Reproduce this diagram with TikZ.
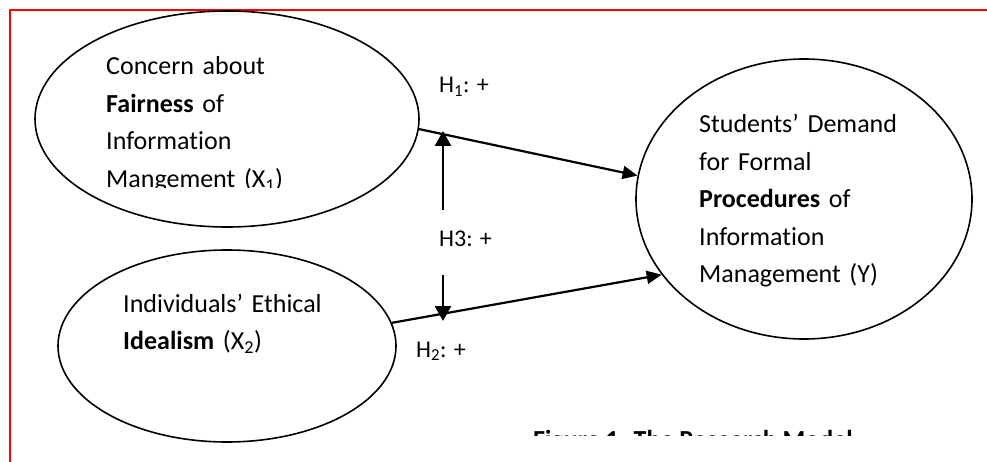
\documentclass[tikz,border=0pt]{standalone}
\usepackage{fontspec}
\setmainfont{Carlito}[Ligatures=NoCommon]
\usetikzlibrary{shapes.geometric,arrows.meta,positioning}

\begin{document}
\begin{tikzpicture}[x=1pt,y=-1pt,
  oval/.style={ellipse, draw=black, line width=1.6pt, inner sep=0pt},
  txt/.style={anchor=base west, inner sep=0pt, align=left, text width=300pt, font=\fontsize{26}{37.5}\selectfont},
  lbl/.style={anchor=base west, inner sep=0pt, font=\fontsize{24}{28}\selectfont},
  arrow/.style={-{Triangle[length=15pt,width=13pt]}, line width=2.2pt},
  modarrow/.style={-{Triangle[length=15pt,width=16pt]}, line width=2.6pt}
]
\useasboundingbox (0,0) rectangle (987,462);

% frame (top and left edge only)
\draw[red, line width=2pt] (987,10) -- (10,10) -- (10,462);

% constructs
\node[oval, minimum width=384pt, minimum height=216pt] (fair) at (227,119) {};
\node[oval, minimum width=338pt, minimum height=192pt] (ideal) at (227,346) {};
\node[oval, minimum width=336pt, minimum height=280pt] (proc) at (804,199) {};

% texts inside the ellipses
\begin{scope}
  \clip (100,40) rectangle (420,188);
  \node[txt] (fairtxt) at (106,75) {Concern about\\\textbf{Fairness} of\\Information\\Mangement (X\textsubscript{1})};
\end{scope}
\node[txt] (idealtxt) at (123,312) {Individuals’ Ethical\\\textbf{Idealism} (X\textsubscript{2})};
\node[txt] (proctxt) at (699,133) {Students’ Demand\\for Formal\\\textbf{Procedures} of\\Information\\Management (Y)};

% hypotheses
\draw[arrow] (fair.-3.3) -- (proc.172.9);
\draw[arrow] (ideal.8.1) -- (proc.208);

\node[lbl] (h1) at (439,93) {H\textsubscript{1}: +};
\node[lbl] (h3) at (439,247) {H3: +};
\node[lbl] (h2) at (416,357) {H\textsubscript{2}: +};

% moderation arrows
\coordinate (h3up) at (443,210);
\coordinate (h1hit) at (443,131);
\coordinate (h3down) at (443,275);
\coordinate (h2hit) at (443,321);
\draw[modarrow] (h3up) -- (h1hit);
\draw[modarrow] (h3down) -- (h2hit);

% caption (cut off at the bottom)
\begin{scope}
  \clip (500,400) rectangle (987,435);
  \node[anchor=base west, inner sep=0pt, font=\bfseries\fontsize{26}{30}\selectfont] (cap) at (533,448) {Figure 1. The Research Model};
\end{scope}

\end{tikzpicture}
\end{document}
